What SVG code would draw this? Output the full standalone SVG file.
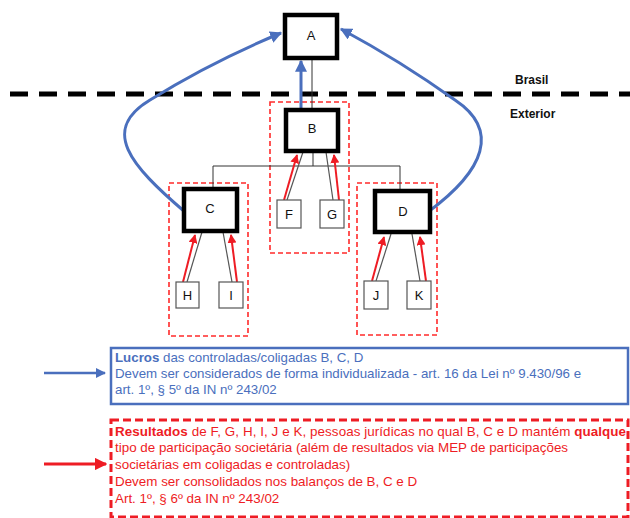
<svg xmlns="http://www.w3.org/2000/svg" width="630" height="518" viewBox="0 0 630 518">
<defs>
<marker id="bh" viewBox="0 0 10 10" refX="9" refY="5" markerWidth="4" markerHeight="4" markerUnits="strokeWidth" orient="auto"><path d="M0,0 L10,5 L0,10 Z" fill="#4a6fbd"/></marker>
<marker id="rh" viewBox="0 0 10 10" refX="9" refY="5" markerWidth="4.5" markerHeight="4.5" markerUnits="strokeWidth" orient="auto"><path d="M0,0 L10,5 L0,10 Z" fill="#ee1c24"/></marker>
<style>
.big{fill:#fff;stroke:#000;stroke-width:4.5}
.sm{fill:#fff;stroke:#555;stroke-width:1.2}
.lbl{font-family:"Liberation Sans",Arial,sans-serif;font-size:13px;fill:#111;text-anchor:middle}
.tree{stroke:#333;stroke-width:1;fill:none}
.gray{stroke:#555;stroke-width:1.2;fill:none}
.red{stroke:#ee1c24;stroke-width:2;fill:none;marker-end:url(#rh)}
.blue{stroke:#4a6fbd;stroke-width:3;fill:none;marker-end:url(#bh)}
.grp{fill:none;stroke:#ff2a2a;stroke-width:1.6;stroke-dasharray:5 3}
.zone{font-family:"Liberation Sans",Arial,sans-serif;font-size:12px;font-weight:bold;fill:#111}
.bt{font-family:"Liberation Sans",Arial,sans-serif;font-size:13.3px;fill:#4a6fbd}
.rt{font-family:"Liberation Sans",Arial,sans-serif;font-size:13.4px;fill:#ee1c24}
</style>
</defs>
<line x1="10" y1="94" x2="630" y2="94" stroke="#000" stroke-width="5" stroke-dasharray="18 11"/>
<text class="zone" x="515" y="84">Brasil</text>
<text class="zone" x="510" y="118">Exterior</text>
<rect class="grp" x="270" y="102" width="79" height="151"/>
<rect class="grp" x="169" y="183" width="79" height="153"/>
<rect class="grp" x="357" y="183" width="80" height="152"/>
<g id="connectors">
<line class="tree" x1="312" y1="59" x2="312" y2="108"/>
<polyline class="tree" points="313,152 313,166"/>
<polyline class="tree" points="213,187 213,166 400,166 400,189"/>
<line class="gray" x1="187" y1="282" x2="202" y2="232"/>
<line class="gray" x1="232" y1="282" x2="223" y2="232"/>
<line class="gray" x1="287" y1="200" x2="303" y2="152"/>
<line class="gray" x1="333" y1="200" x2="326" y2="152"/>
<line class="gray" x1="376" y1="281" x2="391" y2="234"/>
<line class="gray" x1="420" y1="281" x2="412" y2="234"/>
<line class="red" x1="183" y1="282" x2="195" y2="235"/>
<line class="red" x1="237" y1="282" x2="231" y2="235"/>
<line class="red" x1="284" y1="200" x2="297" y2="155"/>
<line class="red" x1="339" y1="200" x2="334" y2="155"/>
<line class="red" x1="372" y1="281" x2="384" y2="237"/>
<line class="red" x1="426" y1="281" x2="420" y2="237"/>
<line class="blue" x1="301" y1="108" x2="301" y2="61"/>
<path class="blue" d="M185,212 C130,165 100,130 150,100 C190,75 240,50 281,33"/>
<path class="blue" d="M428,212 C485,170 500,130 455,100 C420,75 380,50 341,29"/>
</g>
<g id="A"><rect class="big" x="285" y="15" width="52" height="43"/><text class="lbl" x="311" y="40">A</text></g>
<g id="B"><rect class="big" x="286" y="110" width="52" height="41"/><text class="lbl" x="312" y="133">B</text></g>
<g id="C"><rect class="big" x="184" y="189" width="53" height="42"/><text class="lbl" x="210" y="213">C</text></g>
<g id="D"><rect class="big" x="375" y="191" width="55" height="41"/><text class="lbl" x="403" y="216">D</text></g>
<g id="F"><rect class="sm" x="277" y="200" width="24" height="28"/><text class="lbl" x="289" y="219">F</text></g>
<g id="G"><rect class="sm" x="320" y="200" width="24" height="28"/><text class="lbl" x="332" y="219">G</text></g>
<g id="H"><rect class="sm" x="176" y="282" width="23" height="26"/><text class="lbl" x="187.5" y="300">H</text></g>
<g id="I"><rect class="sm" x="219" y="282" width="24" height="26"/><text class="lbl" x="231" y="300">I</text></g>
<g id="J"><rect class="sm" x="364" y="281" width="24" height="28"/><text class="lbl" x="376" y="300">J</text></g>
<g id="K"><rect class="sm" x="407" y="281" width="24" height="28"/><text class="lbl" x="419" y="300">K</text></g>
<g id="note-lucros">
<rect x="111" y="348" width="517" height="56" fill="#fff" stroke="#4a6fbd" stroke-width="2.5"/>
<line class="blue" x1="44" y1="373" x2="105" y2="373" style="stroke-width:2.5"/>
<text class="bt" x="115" y="362"><tspan font-weight="bold">Lucros</tspan> das controladas/coligadas B, C, D</text>
<text class="bt" x="115" y="378">Devem ser considerados de forma individualizada - art. 16 da Lei nº 9.430/96 e</text>
<text class="bt" x="115" y="394">art. 1º, § 5º da IN nº 243/02</text>
</g>
<g id="note-resultados">
<rect x="111" y="420" width="517" height="97" fill="#fff" stroke="#ee1c24" stroke-width="3" stroke-dasharray="8 4"/>
<line class="red" x1="44" y1="464" x2="106" y2="464" style="stroke-width:2.8"/>
<text class="rt" x="115" y="436" textLength="511" lengthAdjust="spacing"><tspan font-weight="bold">Resultados</tspan> de F, G, H, I, J e K, pessoas jurídicas no qual B, C e D mantém <tspan font-weight="bold">qualque</tspan></text>
<text class="rt" x="115" y="452">tipo de participação societária (além de resultados via MEP de participações</text>
<text class="rt" x="115" y="469">societárias em coligadas e controladas)</text>
<text class="rt" x="115" y="486">Devem ser consolidados nos balanços de B, C e D</text>
<text class="rt" x="115" y="503">Art. 1º, § 6º da IN nº 243/02</text>
</g>
</svg>
